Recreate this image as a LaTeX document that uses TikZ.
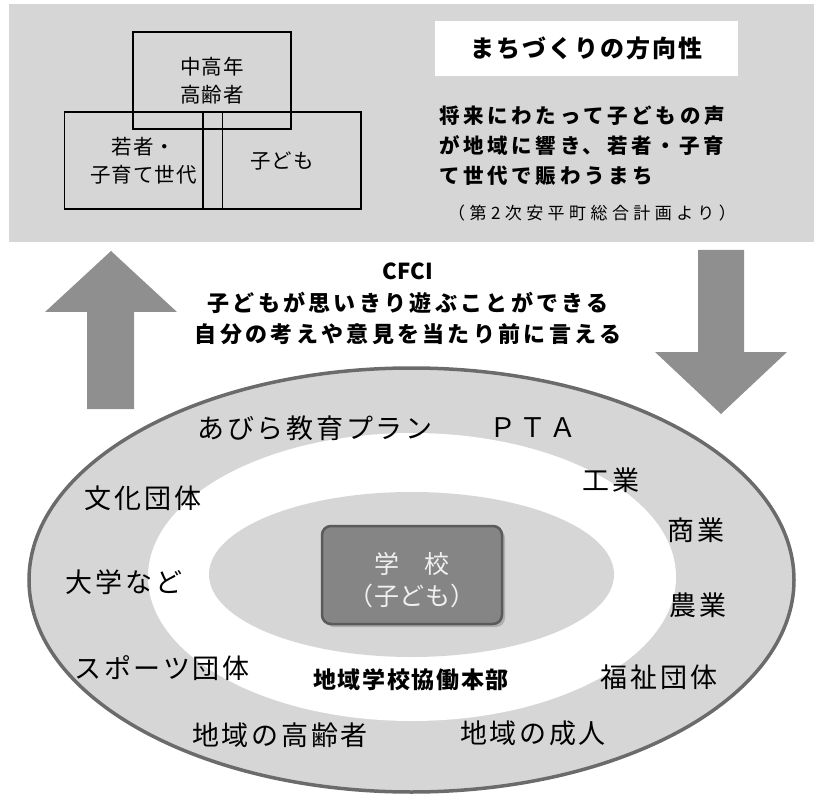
\documentclass[tikz,border=0pt]{standalone}
\usepackage{fontspec}
\usepackage{tikz}
\usetikzlibrary{shadows}
\newfontfamily\jp{Noto Sans CJK JP}
\definecolor{bg}{HTML}{d6d6d6}
\definecolor{ar}{HTML}{8f8f8f}
\definecolor{rim}{HTML}{6b6b6b}
\definecolor{sch}{HTML}{858585}
\definecolor{schb}{HTML}{5a5a5a}
\newcommand{\fs}[2]{\fontsize{#1}{#2}\selectfont}
\tikzset{
  gen/.style={draw, line width=1.6pt, minimum width=158pt, minimum height=97pt, align=center,
    font=\jp\fs{20.5}{28}\addfontfeatures{LetterSpace=5}},
  ring/.style={font=\jp\fs{27}{30}\addfontfeatures{LetterSpace=10}},
}
\begin{document}
\begin{tikzpicture}[x=1pt,y=-1pt]
            \useasboundingbox (0,0) rectangle (814,794);
            % top band
            \fill[bg] (9,4) rectangle (814,242);
            \node[gen] (elder) at (212,80.5) {中高年\\高齢者};
            \node[gen] (young) at (143.5,160.5) {若者・\\子育て世代};
            \node[gen] (kids) at (282,160.5) {子ども};
            \node[fill=white, minimum width=303pt, minimum height=55pt,
              font=\jp\bfseries\fs{24}{28}\addfontfeatures{LetterSpace=8}] (title) at (586.5,48.5) {まちづくりの方向性};
            \node[anchor=west, align=left, inner sep=0pt,
              font=\jp\bfseries\fs{20.5}{30}\addfontfeatures{LetterSpace=18}] (goal) at (439,146) {将来にわたって子どもの声\\が地域に響き、若者・子育\\て世代で賑わうまち};
            \node[font=\jp\fs{17}{20}\addfontfeatures{LetterSpace=26}] (src) at (592,213) {（第2次安平町総合計画より）};
            % arrows
            \fill[ar] (111,251) -- (177,312) -- (134,312) -- (134,409) -- (87,409) -- (87,312) -- (45,312) -- cycle;
            \fill[ar] (721,414) -- (787,352) -- (744,352) -- (744,250) -- (698,250) -- (698,352) -- (655,352) -- cycle;
            \node[align=center, font=\jp\bfseries\fs{22}{31.5}\addfontfeatures{LetterSpace=15}] (cfci) at (408,304) {{\addfontfeatures{LetterSpace=0}CFCI}\\子どもが思いきり遊ぶことができる\\自分の考えや意見を当たり前に言える};
            % rings
            \draw[rim, fill=bg, line width=3.5pt] (411.5,580) ellipse [x radius=382.5pt, y radius=212pt];
            \fill[white] (412,577) ellipse [x radius=264pt, y radius=144pt];
            \fill[bg] (411.5,574.5) ellipse [x radius=202.5pt, y radius=82.5pt];
            \node[draw=schb, line width=2.5pt, fill=sch, rounded corners=9pt, minimum width=180pt, minimum height=98pt,
              drop shadow={shadow xshift=3pt, shadow yshift=-3pt, opacity=0.45}] (school) at (412,575) {};
            \node[align=center, text=white!94!black, font=\jp\fs{25}{32}\addfontfeatures{LetterSpace=2}] (schooltxt) at (412,580) {学　校\\（子ども）};
            \node[font=\jp\bfseries\fs{23}{26}\addfontfeatures{LetterSpace=7}] (hq) at (411,680) {地域学校協働本部};
            \node[ring] (plan) at (315,428) {あびら教育プラン};
            \node[ring] (pta) at (533,428) {ＰＴＡ};
            \node[ring] (ind) at (611,480) {工業};
            \node[ring] (com) at (696,530) {商業};
            \node[ring] (agr) at (698,605) {農業};
            \node[ring] (wel) at (659,677) {福祉団体};
            \node[ring] (adult) at (533,733) {地域の成人};
            \node[ring] (cult) at (143,498) {文化団体};
            \node[ring] (univ) at (124,582) {大学など};
            \node[ring] (sport) at (162,668) {スポーツ団体};
            \node[ring] (old) at (280,735) {地域の高齢者};
          \end{tikzpicture}
\end{document}
